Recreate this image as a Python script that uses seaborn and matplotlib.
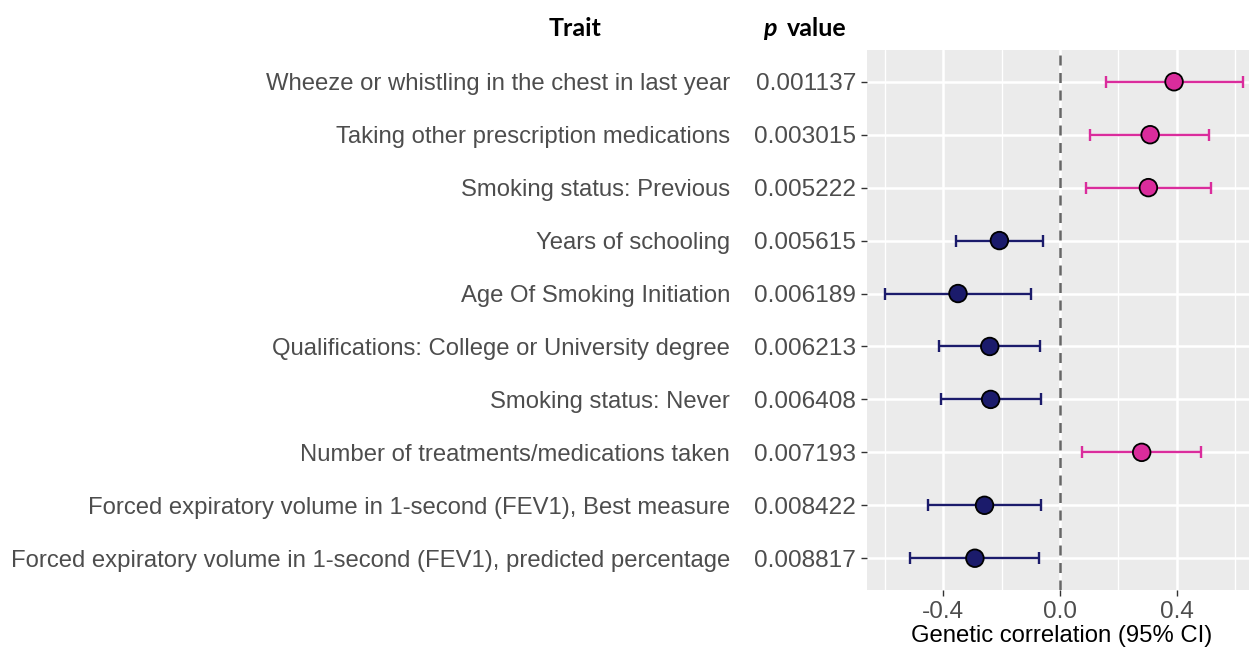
import numpy as np
import pandas as pd
import matplotlib
matplotlib.use("Agg")
import matplotlib.pyplot as plt
import matplotlib.transforms as mtransforms
import seaborn as sns

traits = [
    "Wheeze or whistling in the chest in last year",
    "Taking other prescription medications",
    "Smoking status: Previous",
    "Years of schooling",
    "Age Of Smoking Initiation",
    "Qualifications: College or University degree",
    "Smoking status: Never",
    "Number of treatments/medications taken",
    "Forced expiratory volume in 1-second (FEV1), Best measure",
    "Forced expiratory volume in 1-second (FEV1), predicted percentage",
]
p_values = ["0.001137", "0.003015", "0.005222", "0.005615", "0.006189",
            "0.006213", "0.006408", "0.007193", "0.008422", "0.008817"]
rg = [0.391, 0.309, 0.303, -0.208, -0.350, -0.241, -0.238, 0.280, -0.259, -0.292]
ci_low = [0.157, 0.103, 0.090, -0.357, -0.600, -0.416, -0.409, 0.075, -0.453, -0.513]
ci_high = [0.626, 0.510, 0.517, -0.059, -0.099, -0.069, -0.066, 0.483, -0.066, -0.072]

PINK = "#DA2C9C"
NAVY = "#1B1B6B"

df = pd.DataFrame({
    "trait": traits, "p": p_values, "rg": rg, "lo": ci_low, "hi": ci_high,
})
df["pos"] = np.arange(len(df))
df["sign"] = np.where(df["rg"] > 0, "pos", "neg")

sns.set_theme(style="darkgrid", rc={
    "axes.facecolor": "#EBEBEB",
    "grid.color": "white",
})
plt.rcParams["font.family"] = ["Liberation Sans", "DejaVu Sans"]

fig = plt.figure(figsize=(12.49, 6.53), dpi=100)
ax = fig.add_axes([867 / 1249, 1 - 590 / 653, 382 / 1249, 540 / 653])

# minor gridlines
for xm in [-0.6, -0.2, 0.2, 0.6]:
    ax.axvline(xm, color="white", lw=1.0, zorder=0.5)

ax.axvline(0, color="#666666", lw=1.8, ls=(0, (4, 3)), zorder=1)

for _, r in df.iterrows():
    c = PINK if r["rg"] > 0 else NAVY
    ax.errorbar(x=r["rg"], y=r["pos"],
                xerr=[[r["rg"] - r["lo"]], [r["hi"] - r["rg"]]],
                fmt="none", ecolor=c, elinewidth=1.7, capsize=4.5, capthick=1.7,
                zorder=2)

sns.scatterplot(data=df, x="rg", y="pos", hue="sign",
                palette={"pos": PINK, "neg": NAVY}, s=160,
                edgecolor="black", linewidth=1.3, legend=False, ax=ax, zorder=3)

ax.set_xlim(-0.662, 0.648)
ax.set_ylim(len(df) - 1 + 0.6, -0.6)
ax.set_xticks([-0.4, 0.0, 0.4])
ax.set_xticklabels(["-0.4", "0.0", "0.4"])
ax.set_yticks(df["pos"])
ax.set_yticklabels(df["p"])
ax.grid(True, color="white", lw=1.8)
ax.set_axisbelow(True)
for s in ax.spines.values():
    s.set_visible(False)

ax.tick_params(axis="both", which="major", length=4.5, width=1.0, color="#333333",
               labelsize=17.6, labelcolor="#4D4D4D", pad=3.5, left=True, bottom=True)
for lbl in ax.get_yticklabels():
    lbl.set_verticalalignment("center_baseline")
ax.set_xlabel("Genetic correlation (95% CI)", fontsize=17.2, color="black", labelpad=3)
ax.xaxis.set_label_coords((1062 - 867) / 382, -0.065)
ax.set_ylabel("")

trans = mtransforms.blended_transform_factory(ax.transAxes, ax.transData)
for _, r in df.iterrows():
    ax.text((730 - 867) / 382, r["pos"], r["trait"], transform=trans,
            ha="right", va="center_baseline", fontsize=17.2, color="#4D4D4D")

hdr = dict(fontsize=18, fontweight="bold", color="black", family=["Lato", "DejaVu Sans"], va="center")
fig.text(575 / 1249, 1 - 28 / 653, "Trait", ha="center", **hdr)
fig.text(777 / 1249, 1 - 28 / 653, "p", ha="right", style="italic", **hdr)
fig.text(787 / 1249, 1 - 28 / 653, "value", ha="left", **hdr)

fig.savefig("out.png", dpi=100)
